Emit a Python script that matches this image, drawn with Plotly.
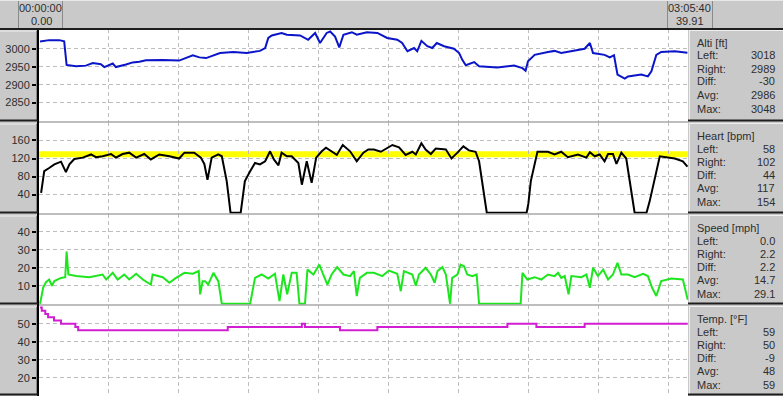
import plotly.graph_objects as go

W, H = 783, 396

# ---------------- data (time in minutes) ----------------
alti_t = [0.3, 2.9, 5.8, 7.2, 7.9, 10.6, 13.4, 15.4, 17.7, 18.7, 21.1, 22.0, 24.9, 26.8, 28.7, 30.6,
          35.4, 40.1, 44.0, 45.9, 47.8, 51.8, 55.6, 59.4, 63.2, 64.7, 65.6, 66.6, 69.4, 70.9, 74.7,
          77.0, 79.0, 80.4, 82.3, 83.3, 84.7, 85.9, 87.1, 89.5, 90.9, 93.8, 96.8, 99.6, 102.5, 103.9,
          105.4, 107.3, 108.2, 109.4, 111.1, 112.5, 113.8, 115.9, 118.7, 120.2, 121.1, 122.1, 124.5,
          125.9, 131.1, 135.9, 138.3, 139.2, 139.9, 141.8, 145.6, 147.5, 149.4, 153.3, 156.1, 157.6,
          158.5, 161.8, 163.3, 164.5, 165.5, 167.6, 168.5, 172.3, 174.2, 175.2, 176.6, 178.0, 181.9, 185.5]
alti_v = [3020, 3024, 3024, 3021, 2955, 2951, 2953, 2960, 2957, 2949, 2959, 2949, 2956, 2962, 2964, 2968,
          2969, 2967, 2982, 2976, 2974, 2988, 2991, 2988, 2994, 3002, 3030, 3037, 3044, 3039, 3037,
          3025, 3044, 3016, 3044, 3048, 3034, 3004, 3039, 3046, 3039, 3046, 3044, 3030, 3025, 3016,
          2993, 3002, 2993, 3022, 3007, 3002, 3016, 3007, 3000, 2988, 2969, 2954, 2963,
          2951, 2948, 2953, 2946, 2939, 2965, 2983, 2991, 2994, 2988, 2994, 3000, 3016,
          2988, 2983, 2976, 2982, 2928, 2917, 2923, 2928, 2923, 2937, 2983, 2991, 2993, 2989]

heart_t = [0.6, 1.5, 2.9, 4.4, 6.3, 7.7, 8.7, 10.1, 12.5, 14.9, 16.3, 18.2, 20.6, 22.0, 23.9, 25.8,
           27.8, 30.1, 32.0, 34.4, 37.3, 40.1, 41.6, 44.4, 46.3, 47.3, 48.2, 49.4, 51.3, 52.3, 53.7,
           54.8, 57.7, 58.9, 60.4, 61.8, 63.2, 64.7, 66.1, 67.2, 68.5, 69.4, 70.9, 72.3, 74.2, 75.2,
           76.6, 78.0, 79.3, 80.9, 82.1, 83.7, 85.2, 86.9, 89.0, 90.9, 92.8, 94.2, 95.8, 97.8, 101.1,
           103.0, 104.9, 106.8, 107.8, 109.4, 110.6, 112.1, 113.5, 116.4, 118.0, 119.7, 121.4, 123.0,
           124.9, 125.9, 128.1, 139.5, 140.0, 140.7, 141.6, 142.6, 145.6, 147.5, 149.4, 151.3, 154.2,
           156.6, 157.6, 159.0, 160.4, 161.8, 162.8, 164.2, 165.2, 166.6, 168.0, 170.4, 173.8, 174.7,
           177.6, 181.9, 184.2, 185.5]
heart_v = [44, 92, 99, 107, 113, 90, 107, 119, 122, 129, 123, 125, 130, 122, 130, 133,
           122, 130, 118, 129, 125, 120, 133, 133, 122, 108, 73, 122, 129, 125, 70,
           0, 0, 70, 92, 110, 107, 114, 136, 118, 105, 133, 125, 125, 110, 62,
           114, 66, 122, 136, 144, 135, 128, 150, 136, 114, 133, 140, 140, 135, 150,
           145, 128, 135, 129, 154, 140, 130, 142, 140, 120, 133, 147, 138,
           135, 114, 0, 0, 20, 70, 100, 135, 135, 129, 135, 123, 129,
           122, 134, 125, 129, 114, 130, 130, 108, 133, 120, 0, 0, 25,
           125, 120, 114, 102]

speed_t = [0.3, 1.2, 2.0, 2.9, 3.7, 4.4, 6.3, 7.5, 7.9, 8.4, 10.6, 14.4, 18.2, 19.2, 21.1, 22.5,
           24.4, 25.8, 27.8, 29.7, 32.0, 32.5, 35.4, 37.3, 39.2, 41.6, 44.0, 45.7, 46.1, 46.8, 47.5,
           48.4, 49.9, 51.3, 52.3, 60.4, 61.8, 63.7, 65.6, 67.5, 68.8, 69.9, 71.0, 72.3, 73.7, 74.5,
           76.1, 76.8, 78.5, 80.2, 81.3, 82.5, 83.7, 85.3, 87.1, 89.0, 90.1, 90.9, 91.8, 93.8, 95.8,
           98.2, 100.1, 102.5, 103.5, 104.4, 106.8, 107.8, 108.7, 110.6, 112.1, 113.2, 114.0, 115.4,
           116.4, 117.6, 118.2, 119.7, 120.6, 121.6, 122.5, 124.0, 125.2, 125.9, 137.8, 138.3, 139.7,
           141.8, 143.7, 145.6, 147.5, 148.5, 149.4, 150.4, 151.5, 152.3, 155.2, 156.6, 157.6, 158.5,
           159.9, 161.4, 162.8, 164.2, 165.5, 166.6, 168.5, 170.4, 172.8, 174.2, 175.4, 176.6, 178.0,
           180.9, 184.2, 185.2, 185.6]
speed_v = [0, 9, 12, 13.5, 10, 12.6, 14.4, 14.8, 29.1, 16.3, 15.4, 14.8, 16.3, 13.5, 17.2, 13.5,
           16.3, 13.5, 16.7, 13.5, 10.7, 16.3, 14.8, 11.7, 14.4, 17.2, 16.7, 18.2, 5.2, 12.6, 12.6,
           10.7, 17.2, 12.6, 0, 0, 14.4, 16.3, 14, 16.7, 1.5, 16.3, 5.2, 17.2, 17.2, 0,
           0, 19, 16.3, 21.8, 16.3, 10.7, 16.3, 20.4, 16.3, 15.4, 18.2, 4.3, 14.4, 17.2, 17.2,
           15.4, 18.5, 16.7, 7, 18.2, 16.3, 10, 16.3, 20, 16.3, 11.7, 18.2, 20.4,
           16.3, 0, 14.4, 16.3, 21.8, 20.9, 16.3, 15.4, 16.3, 0, 0, 17.2, 13.5,
           14.8, 13.5, 16.3, 15.4, 17.2, 14.4, 15.4, 5.2, 15.4, 14.8, 16.3, 8.9, 20,
           15.4, 19, 13.5, 16.3, 22.8, 16.3, 16.3, 14.8, 16.7, 15.4, 8.9, 4.3, 12.6,
           14, 13.5, 6.1, 2.2]

temp_t = [0.3, 0.8, 1.8, 2.6, 4.3, 6.3, 10.4, 11.2, 54.0, 75.2, 76.1, 86.1, 96.8, 134.0, 142.3, 156.1, 185.6]
temp_v = [59, 57.2, 55.4, 53.6, 51.8, 50, 48.2, 46.4, 48.2, 50, 48.2, 46.4, 48.2, 50, 48.2, 50, 50]

zone_lo, zone_hi = 123, 136
t_end = 185.67

titles = ["Alti [ft]", "Heart [bpm]", "Speed [mph]", "Temp. [°F]"]
stat_labels = ["Left:", "Right:", "Diff:", "Avg:", "Max:"]
stat_values = [["3018", "2989", "-30", "2986", "3048"],
               ["58", "102", "44", "117", "154"],
               ["0.0", "2.2", "2.2", "14.7", "29.1"],
               ["59", "50", "-9", "48", "59"]]
yticks = [[2850, 2900, 2950, 3000], [40, 80, 120, 160], [10, 20, 30, 40], [20, 30, 40, 50]]
yranges = [[2796, 3055], [-3, 201], [-0.7, 50], [10, 60.4]]
colors = ["#0a14c8", "#000000", "#1ee61e", "#d21ed2"]
series = [(alti_t, alti_v, "linear"), (heart_t, heart_v, "linear"),
          (speed_t, speed_v, "linear"), (temp_t, temp_v, "hv")]

# ---------------- layout geometry ----------------
bounds = [29, 122, 214, 305, 396]
X0, X1 = 39, 688
GRAY = "#c9c9c9"
TXT = "#2e2e2e"
FONT = "Liberation Sans, Arial"

def py(y):
    return 1 - y / H

def px(x):
    return x / W

fig = go.Figure()
layout = dict(width=W, height=H, margin=dict(l=0, r=0, t=0, b=0),
              paper_bgcolor=GRAY, plot_bgcolor="white", showlegend=False,
              font=dict(family=FONT, size=11, color=TXT))

shapes = []
annotations = []

for i in range(4):
    sfx = "" if i == 0 else str(i + 1)
    top, bot = bounds[i], bounds[i + 1]
    t, v, shape = series[i]
    fig.add_trace(go.Scatter(x=t, y=v, mode="lines", line=dict(color=colors[i], width=2, shape=shape),
                             xaxis="x" + sfx, yaxis="y" + sfx, hoverinfo="skip"))
    layout["xaxis" + sfx] = dict(domain=[px(X0), px(X1)], range=[0, t_end], anchor="y" + sfx,
                                 showticklabels=False, ticks="", showgrid=True, dtick=20, tick0=0,
                                 gridcolor="#bdbdbd", griddash="4px,3px", gridwidth=1,
                                 zeroline=False, showline=False, fixedrange=True)
    layout["yaxis" + sfx] = dict(domain=[py(bot), py(top)], range=yranges[i], anchor="x" + sfx,
                                 tickvals=yticks[i], showgrid=True, gridcolor="#bdbdbd",
                                 griddash="4px,3px", gridwidth=1, zeroline=False,
                                 showline=True, linecolor="black", linewidth=2,
                                 ticks="outside", ticklen=5, tickwidth=2, tickcolor="black",
                                 tickfont=dict(family=FONT, size=11, color=TXT), fixedrange=True)

    # left column raised box
    shapes.append(dict(type="line", xref="paper", yref="paper", x0=px(0), x1=px(36),
                       y0=py(top + 2), y1=py(top + 2), line=dict(color="#efefef", width=1)))
    shapes.append(dict(type="line", xref="paper", yref="paper", x0=px(36.5), x1=px(36.5),
                       y0=py(top + 2), y1=py(bot - 2), line=dict(color="#8a8a8a", width=1)))
    shapes.append(dict(type="line", xref="paper", yref="paper", x0=px(0), x1=px(38),
                       y0=py(bot - 1.5), y1=py(bot - 1.5), line=dict(color="#1e1e1e", width=2)))
    # right stats box
    shapes.append(dict(type="line", xref="paper", yref="paper", x0=px(689), x1=px(783),
                       y0=py(top + 1.5), y1=py(top + 1.5), line=dict(color="#efefef", width=1)))
    shapes.append(dict(type="line", xref="paper", yref="paper", x0=px(689.5), x1=px(689.5),
                       y0=py(top + 1.5), y1=py(bot - 2), line=dict(color="#efefef", width=1)))
    shapes.append(dict(type="line", xref="paper", yref="paper", x0=px(688), x1=px(783),
                       y0=py(bot - 1.5), y1=py(bot - 1.5), line=dict(color="#1e1e1e", width=2)))
    # separator in plot area
    if i < 3:
        shapes.append(dict(type="line", xref="paper", yref="paper", x0=px(X0), x1=px(X1),
                           y0=py(bot), y1=py(bot), line=dict(color="#a9a9a9", width=1.5)))

    # stats text
    offs = [26.5, 39.5, 52.5, 66, 79.5]
    annotations.append(dict(text=titles[i], xref="paper", yref="paper", x=px(695), y=py(top + 14),
                            xanchor="left", yanchor="middle", showarrow=False,
                            font=dict(family=FONT, size=11, color=TXT)))
    for lab, val, o in zip(stat_labels, stat_values[i], offs):
        annotations.append(dict(text=lab, xref="paper", yref="paper", x=px(695), y=py(top + o),
                                xanchor="left", yanchor="middle", showarrow=False,
                                font=dict(family=FONT, size=11, color=TXT)))
        annotations.append(dict(text=val, xref="paper", yref="paper", x=px(777), y=py(top + o),
                                xanchor="right", yanchor="middle", showarrow=False,
                                font=dict(family=FONT, size=11, color=TXT)))

# heart-rate zone band
shapes.append(dict(type="rect", xref="x2", yref="y2", x0=0, x1=t_end, y0=zone_lo, y1=zone_hi,
                   fillcolor="#ffff00", line=dict(width=0), layer="below"))

# header
shapes.append(dict(type="line", xref="paper", yref="paper", x0=0, x1=1, y0=py(29), y1=py(29),
                   line=dict(color="#1e1e1e", width=2)))
for (a, b) in [(18, 62), (667, 712)]:
    shapes.append(dict(type="line", xref="paper", yref="paper", x0=px(a + 0.5), x1=px(a + 0.5),
                       y0=py(0), y1=py(28), line=dict(color="#8a8a8a", width=1)))
    shapes.append(dict(type="line", xref="paper", yref="paper", x0=px(b + 0.5), x1=px(b + 0.5),
                       y0=py(0), y1=py(28), line=dict(color="#8a8a8a", width=1)))
shapes.append(dict(type="line", xref="paper", yref="paper", x0=0, x1=1, y0=py(0.5), y1=py(0.5),
                   line=dict(color="#e8e8e8", width=1)))

hdr = [("00:00:00", 40.5, 8.5), ("0.00", 41.5, 21.5),
       ("03:05:40", 689.5, 8.5), ("39.91", 689.5, 21.5)]
for txt, x, y in hdr:
    annotations.append(dict(text=txt, xref="paper", yref="paper", x=px(x), y=py(y),
                            xanchor="center", yanchor="middle", showarrow=False,
                            font=dict(family=FONT, size=11, color=TXT)))

layout["shapes"] = shapes
layout["annotations"] = annotations
fig.update_layout(**layout)
fig.write_html("out.html")
